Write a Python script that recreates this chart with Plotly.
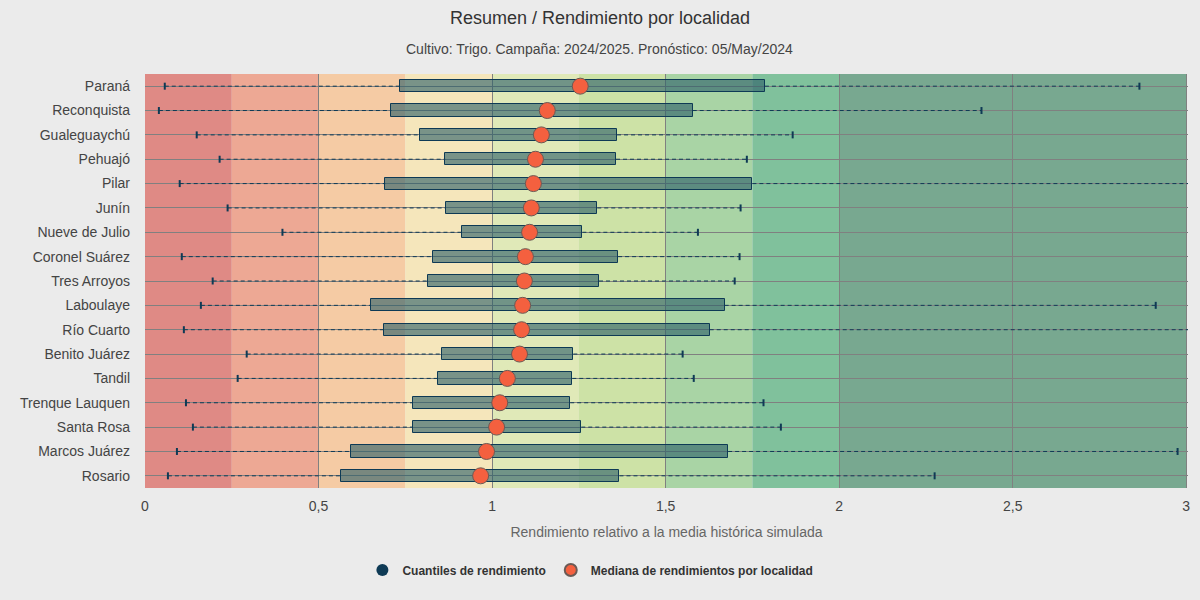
import plotly.graph_objects as go

localidades = ["Paraná", "Reconquista", "Gualeguaychú", "Pehuajó", "Pilar", "Junín",
               "Nueve de Julio", "Coronel Suárez", "Tres Arroyos", "Laboulaye", "Río Cuarto",
               "Benito Juárez", "Tandil", "Trenque Lauquen", "Santa Rosa", "Marcos Juárez", "Rosario"]
q_min = [0.057, 0.040, 0.149, 0.215, 0.100, 0.238, 0.396, 0.106, 0.195, 0.161, 0.112,
         0.293, 0.267, 0.118, 0.138, 0.092, 0.066]
q1 = [0.736, 0.710, 0.793, 0.865, 0.692, 0.867, 0.912, 0.829, 0.815, 0.651, 0.689,
      0.855, 0.844, 0.772, 0.772, 0.594, 0.565]
mediana = [1.254, 1.159, 1.142, 1.125, 1.119, 1.113, 1.108, 1.096, 1.093, 1.088, 1.085,
           1.079, 1.044, 1.022, 1.013, 0.984, 0.967]
q3 = [1.786, 1.578, 1.360, 1.357, 1.750, 1.303, 1.260, 1.363, 1.308, 1.670, 1.627,
      1.234, 1.231, 1.225, 1.257, 1.680, 1.367]
q_max = [2.865, 2.410, 1.866, 1.734, 3.10, 1.716, 1.593, 1.713, 1.699, 2.912, 3.10,
         1.549, 1.581, 1.782, 1.832, 2.975, 2.275]

bandas_desde = [0, 0.25, 0.5, 0.75, 1.0, 1.25, 1.5, 1.75, 2.0]
bandas_hasta = [0.25, 0.5, 0.75, 1.0, 1.25, 1.5, 1.75, 2.0, 3.0]
bandas_color = ["#df8a85", "#eda894", "#f5cba4", "#f5e6bb", "#e0e9b8",
                "#cde2a6", "#a9d4a5", "#80c19c", "#78a890"]

NAVY = "#0e3a55"
FONT = "Liberation Sans, Arial, sans-serif"

fig = go.Figure()

# whiskers (dashed)
wx, wy = [], []
for i, loc in enumerate(localidades):
    wx += [q_min[i], q1[i], None, q3[i], q_max[i], None]
    wy += [loc, loc, None, loc, loc, None]
fig.add_trace(go.Scatter(x=wx, y=wy, mode="lines", line=dict(color=NAVY, width=1, dash="4px,3px"),
                         showlegend=False, hoverinfo="skip"))
# whisker end ticks
fig.add_trace(go.Scatter(x=q_min + q_max, y=localidades + localidades, mode="markers",
                         marker=dict(symbol="line-ns", size=5, line=dict(color=NAVY, width=2)),
                         showlegend=False, hoverinfo="skip"))
# boxes
fig.add_trace(go.Bar(y=localidades, x=[b - a for a, b in zip(q1, q3)], base=q1, orientation="h",
                     width=0.5, marker=dict(color="rgba(45,95,105,0.62)", line=dict(color=NAVY, width=1)),
                     showlegend=False, name="Cuantiles de rendimiento"))
# legend entry for quantiles
fig.add_trace(go.Scatter(x=[None], y=[None], mode="markers", name="Cuantiles de rendimiento",
                         marker=dict(symbol="circle", size=12, color=NAVY)))
# medians
fig.add_trace(go.Scatter(x=mediana, y=localidades, mode="markers",
                         name="Mediana de rendimientos por localidad",
                         marker=dict(symbol="circle", size=16, color="#f4603f",
                                     line=dict(color="#6b5a55", width=1))))

shapes = []
for a, b, c in zip(bandas_desde, bandas_hasta, bandas_color):
    shapes.append(dict(type="rect", xref="x", yref="paper", x0=a, x1=b, y0=0, y1=1,
                       fillcolor=c, line=dict(width=0), layer="below"))

fig.update_layout(
    width=1200, height=600,
    paper_bgcolor="#ebebeb", plot_bgcolor="#ebebeb",
    margin=dict(l=145, r=10, t=74, b=112),
    separators=",.",
    font=dict(family=FONT, size=14, color="#444"),
    shapes=shapes,
    bargap=0,
    title=dict(text="Resumen / Rendimiento por localidad", x=0.5, xanchor="center",
               y=1 - 18 / 600, yref="container", yanchor="middle",
               font=dict(size=18, color="#333", family=FONT)),
    annotations=[dict(text="Cultivo: Trigo. Campaña: 2024/2025. Pronóstico: 05/May/2024",
                      xref="paper", yref="paper", x=(600 - 145) / 1045, xanchor="center",
                      y=(600 - 112 - 49) / 414, yanchor="middle", showarrow=False,
                      font=dict(size=14, color="#444", family=FONT))],
    legend=dict(orientation="h", xref="container", x=0.492, xanchor="center",
                yref="container", y=30 / 600, yanchor="middle",
                font=dict(size=12, color="#333", family=FONT, weight="bold"),
                bgcolor="rgba(0,0,0,0)", itemsizing="constant"),
    xaxis=dict(range=[0, 3.005], dtick=0.5, tick0=0, showgrid=True, gridcolor="#808080", gridwidth=1,
               zeroline=False, showline=False, ticks="", ticklabelstandoff=8,
               tickfont=dict(size=14, color="#444"),
               title=dict(text="Rendimiento relativo a la media histórica simulada",
                          font=dict(size=14, color="#666"), standoff=14)),
    yaxis=dict(type="category", categoryorder="array", categoryarray=localidades,
               range=[len(localidades) - 0.5, -0.5], autorange=False,
               showgrid=True, gridcolor="#808080", gridwidth=1,
               zeroline=False, showline=False, ticks="", ticklabelstandoff=14,
               tickfont=dict(size=14, color="#444")),
)

fig.write_html("out.html", config={"displayModeBar": False},
               post_script="document.body.style.margin='0';document.body.style.background='#ebebeb';")
